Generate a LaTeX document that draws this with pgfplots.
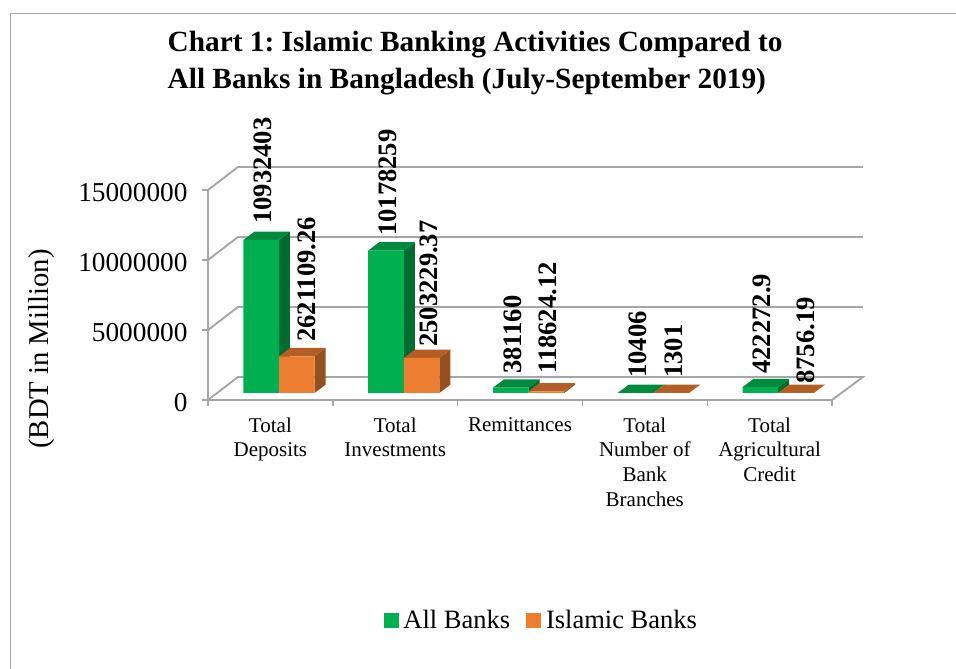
\documentclass[border=0pt]{standalone}
\usepackage{pgfplots}
\pgfplotsset{compat=1.18}
\usepackage{fontspec}
\setmainfont{Liberation Serif}
\frenchspacing
\definecolor{allfront}{HTML}{00B050}
\definecolor{alltop}{HTML}{008A3E}
\definecolor{allside}{HTML}{006C30}
\definecolor{islfront}{HTML}{ED7D31}
\definecolor{isltop}{HTML}{B25E25}
\definecolor{islside}{HTML}{94501E}
\definecolor{wall}{HTML}{A6A6A6}
% bar geometry, in category units along x and data units along y
\newcommand\barw{0.285}
\newcommand\bard{0.088}
\newcommand\fpadd[3]{\begingroup\pgfkeys{/pgf/fpu=true,/pgf/fpu/output format=fixed}%
  \pgfmathparse{#2+#3}\xdef#1{\pgfmathresult}\endgroup}
% one pseudo-3D column: front, side and top faces
\newcommand\column[3]{%
  \pgfmathsetmacro\xa{#1}\pgfmathsetmacro\xb{#1+\barw}%
  \pgfmathsetmacro\xc{#1+\barw+\bard}\pgfmathsetmacro\xd{#1+\bard}%
  \fpadd\yf{#2}{500000}\fpadd\yg{#2}{1093000}%
  \addplot[forget plot,draw=none,fill=#3side] coordinates {(\xb,500000)(\xc,1093000)(\xc,\yg)(\xb,\yf)(\xb,500000)};
  \addplot[forget plot,draw=none,fill=#3top] coordinates {(\xa,\yf)(\xb,\yf)(\xc,\yg)(\xd,\yg)(\xa,\yf)};
  \addplot[forget plot,draw=none,fill=#3front] coordinates {(\xa,500000)(\xb,500000)(\xb,\yf)(\xa,\yf)(\xa,500000)};
}
\newcommand\vallabel[3]{\node[rotate=90,anchor=west,inner sep=0pt,font=\fontsize{26.6}{26.6}\selectfont\bfseries] at (axis cs:#1,#2) {#3};}
\begin{document}
\begin{tikzpicture}[x=1pt,y=1pt]
\path[use as bounding box] (0,0) rectangle (956,669);
\draw[wall,line width=1.4pt] (10.7,0) -- (10.7,655.5) -- (956,655.5);
\node[anchor=west,align=left,inner sep=0pt,font=\fontsize{29.3}{37}\selectfont\bfseries] at (167.5,606)
  {Chart 1: Islamic Banking Activities Compared to\\All Banks in Bangladesh (July-September 2019)};
\begin{axis}[
  at={(208pt,269pt)},anchor=south west,
  scale only axis,width=624pt,height=210pt,
  xmin=0,xmax=5,ymin=0,ymax=15000000,
  clip=false,no markers,
  axis lines*=left,
  axis line style={wall,line width=1.9pt},
  tick style={wall,line width=1.4pt},
  tick align=outside,
  major tick length=6pt,minor tick length=6pt,
  major x tick style={draw=none},
  ytick={0,5000000,10000000,15000000},
  scaled y ticks=false,
  yticklabel style={/pgf/number format/fixed,/pgf/number format/1000 sep={},
    /pgf/number format/assume math mode=true,
    font=\fontsize{27.3}{27.3}\selectfont,xshift=-11pt,yshift=-3pt},
  xtick={0.5,1.5,2.5,3.5,4.5},
  minor xtick={0,1,2,3,4,5},
  xticklabels={Total\\Deposits,Total\\Investments,Remittances,Total\\Number of\\Bank\\Branches,Total\\Agricultural\\Credit},
  xticklabel style={align=center,anchor=north,font=\fontsize{21}{24.7}\selectfont,yshift=-8pt},
  ylabel={(BDT in Million)},
  ylabel style={at={(axis description cs:-0.266,0.243)},anchor=center,rotate=0,
    font=\fontsize{28.7}{28.7}\selectfont},
  legend style={at={(axis description cs:0.534,-1.048)},anchor=center,draw=none,fill=none,
    font=\fontsize{26.5}{26.5}\selectfont,inner sep=0pt,
    /tikz/every even column/.append style={column sep=14pt},
    /tikz/every odd column/.append style={column sep=3.5pt}},
  legend columns=2,
  legend cell align=left,
  legend image code/.code={\fill[#1] (0pt,-7pt) rectangle (14pt,7pt);},
]
\addlegendimage{allfront}\addlegendentry{All Banks}
\addlegendimage{islfront}\addlegendentry{Islamic Banks}
% back wall gridlines and the side wall diagonals
\addplot[forget plot,wall,line width=1.9pt] coordinates {(0,0)(0.24,1643000)(5.248,1643000)(5,0)};
\addplot[forget plot,wall,line width=1.9pt] coordinates {(0,5000000)(0.24,6643000)(5.248,6643000)};
\addplot[forget plot,wall,line width=1.9pt] coordinates {(0,10000000)(0.24,11643000)(5.248,11643000)};
\addplot[forget plot,wall,line width=1.9pt] coordinates {(0,15000000)(0.24,16643000)(5.248,16643000)};
% columns
\column{0.284}{10932403}{all}
\column{0.569}{2621109.26}{isl}
\column{1.284}{10178259}{all}
\column{1.569}{2503229.37}{isl}
\column{2.284}{381160}{all}
\column{2.569}{118624.12}{isl}
\column{3.284}{10406}{all}
\column{3.569}{1301}{isl}
\column{4.284}{422272.9}{all}
\column{4.569}{8756.19}{isl}
% value labels
\vallabel{0.441}{12571000}{10932403}
\vallabel{0.793}{4143000}{2621109.26}
\vallabel{1.442}{11714000}{10178259}
\vallabel{1.771}{3786000}{2503229.37}
\vallabel{2.444}{1857000}{381160}
\vallabel{2.724}{1857000}{118624.12}
\vallabel{3.446}{1571000}{10406}
\vallabel{3.734}{1571000}{1301}
\vallabel{4.439}{1857000}{422272.9}
\vallabel{4.792}{1143000}{8756.19}
\end{axis}
\end{tikzpicture}
\end{document}
